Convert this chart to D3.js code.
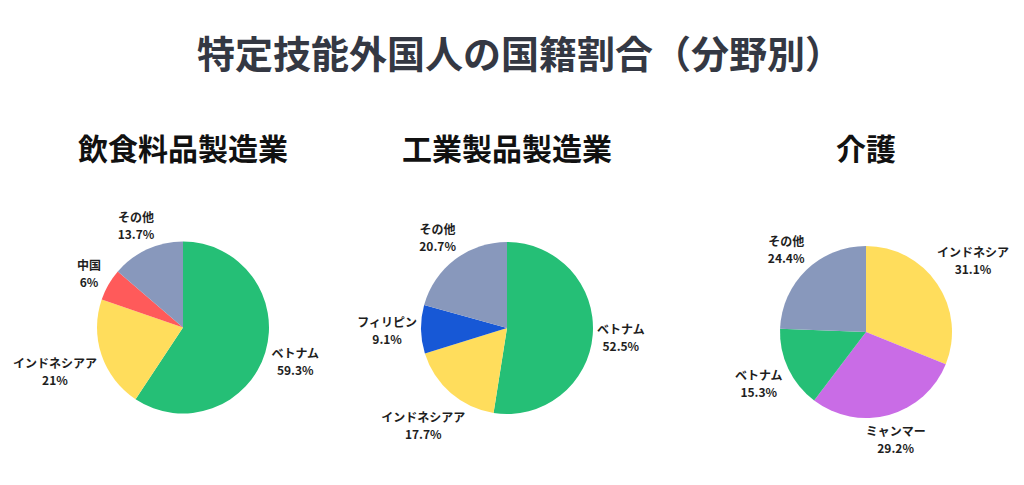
<!DOCTYPE html>
<html><head><meta charset="utf-8">
<script src="https://cdn.jsdelivr.net/npm/d3@7"></script>
<style>
html,body{margin:0;padding:0;background:#fff;}
svg{display:block;font-family:"Noto Sans CJK JP","Noto Sans",sans-serif;}
</style></head>
<body><svg id="c" width="1024" height="485"></svg>
<script>
// ---- data ----
const chartTitle = "特定技能外国人の国籍割合（分野別）";
const panelTitles = ["飲食料品製造業", "工業製品製造業", "介護"];
const foodLabels = ["ベトナム", "インドネシアア", "中国", "その他"];
const foodValues = [59.3, 21, 6, 13.7];
const industryLabels = ["ベトナム", "インドネシアア", "フィリピン", "その他"];
const industryValues = [52.5, 17.7, 9.1, 20.7];
const careLabels = ["インドネシア", "ミャンマー", "ベトナム", "その他"];
const careValues = [31.1, 29.2, 15.3, 24.4];
const colorMap = {"ベトナム":"#25bf76","インドネシアア":"#ffdd5c","インドネシア":"#ffdd5c","中国":"#ff5a5a","その他":"#8898bc","フィリピン":"#1758d6","ミャンマー":"#c96ce6"};

// ---- layout ----
const W = 1024, H = 485;
const cxs = [183, 507, 866];
const cys = [327.5, 328, 332];
const radius = 86;
const gap = 4;

const svg = d3.select("#c");
svg.append("text").attr("x", W/2 + 8).attr("y", 51)
  .attr("text-anchor","middle").attr("dominant-baseline","central")
  .attr("font-size", 38).attr("font-weight", 700).attr("fill", "#343843")
  .text(chartTitle);

const panels = [
  {labels: foodLabels, values: foodValues},
  {labels: industryLabels, values: industryValues},
  {labels: careLabels, values: careValues}
];

const pie = d3.pie().sort(null).value(d => d.v).startAngle(0).endAngle(2*Math.PI);
const arc = d3.arc().innerRadius(0).outerRadius(radius);

function boxDist(cx, cy, w, h) {
  const nx = Math.max(cx - w, Math.min(0, cx + w));
  const ny = Math.max(cy - h, Math.min(0, cy + h));
  return Math.hypot(nx, ny);
}

panels.forEach((p, i) => {
  svg.append("text").attr("x", cxs[i]).attr("y", 147)
    .attr("text-anchor","middle").attr("dominant-baseline","central")
    .attr("font-size", 30).attr("font-weight", 700).attr("fill", "#111")
    .text(panelTitles[i]);
  const g = svg.append("g").attr("transform", `translate(${cxs[i]},${cys[i]})`);
  const data = pie(p.labels.map((l, k) => ({l, v: p.values[k]})));
  g.selectAll("path").data(data).join("path")
    .attr("d", arc).attr("fill", d => colorMap[d.data.l]);
  data.forEach(d => {
    const t = g.append("text").attr("text-anchor","middle")
      .attr("font-size", 12).attr("font-weight", 700).attr("fill", "#1e1e1e");
    t.append("tspan").attr("x", 0).attr("dy", 0).text(d.data.l);
    t.append("tspan").attr("x", 0).attr("dy", 17).text(d.data.v + "%");
    const bb = t.node().getBBox();
    const w = bb.width/2, h = bb.height/2;
    const a = (d.startAngle + d.endAngle)/2;
    const sx = Math.sin(a), sy = -Math.cos(a);
    let lo = 0, hi = 400;
    for (let it = 0; it < 40; it++) {
      const mid = (lo + hi)/2;
      if (boxDist(sx*mid, sy*mid, w, h) >= radius + gap) hi = mid; else lo = mid;
    }
    const R = hi;
    const px = sx*R, py = sy*R;
    const bcy = bb.y + bb.height/2;
    t.attr("transform", `translate(${px},${py - bcy})`);
  });
});
</script></body></html>
